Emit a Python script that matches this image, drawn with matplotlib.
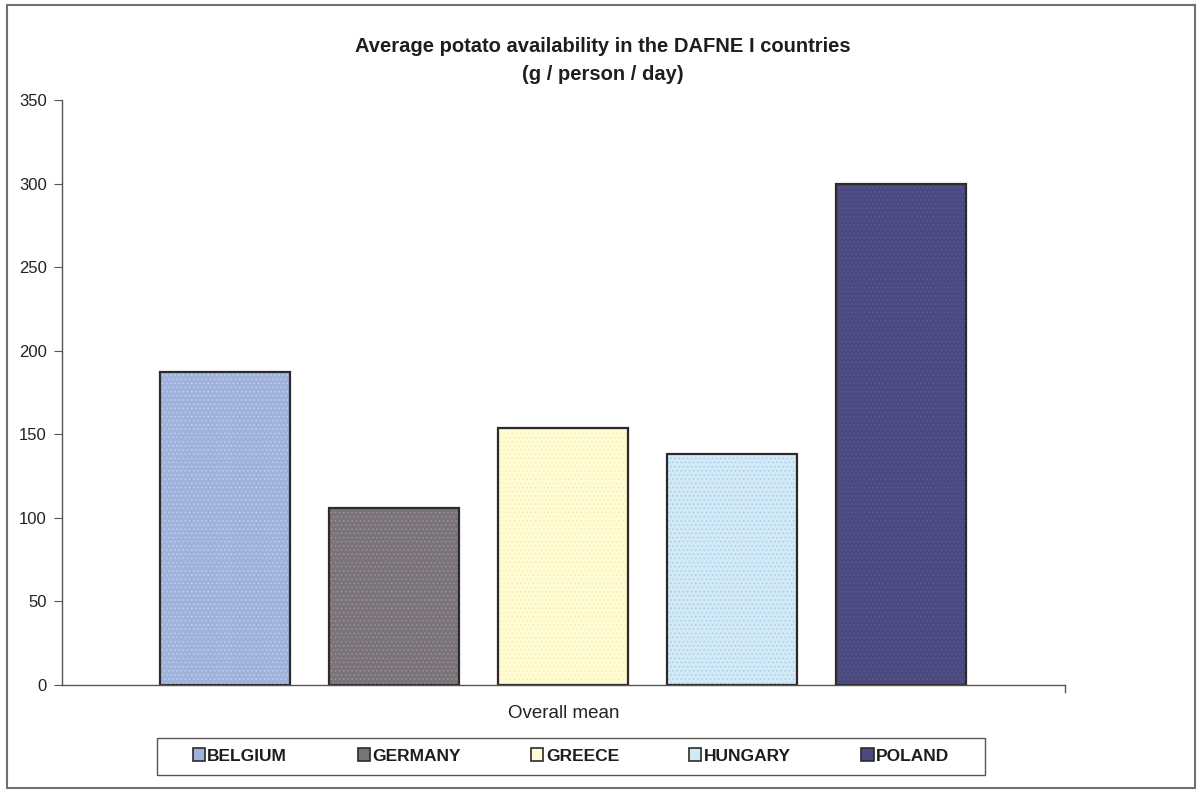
import matplotlib.pyplot as plt
from matplotlib.patches import Rectangle

plt.rcParams['font.family'] = ['Liberation Sans', 'DejaVu Sans']
plt.rcParams['hatch.linewidth'] = 0.6

countries = ['BELGIUM', 'GERMANY', 'GREECE', 'HUNGARY', 'POLAND']
potato = [187, 106, 154, 138, 300]
fills = ['#9fb2dc', '#7a7379', '#fffbd2', '#d2eaf6', '#4a4a80']
dots = ['#c2cfee', '#9c949a', '#f4efb0', '#a9cde6', '#5a5a90']

fig = plt.figure(figsize=(11.97, 7.90), dpi=100)
fig.patch.set_facecolor('white')
fig.add_artist(Rectangle((7 / 1197, 2 / 790), 1188 / 1197, 783 / 790,
                         transform=fig.transFigure, fill=False,
                         edgecolor='#707070', linewidth=1.5))

ax = fig.add_axes([62 / 1197, 105 / 790, 1003 / 1197, 585 / 790])
ax.set_facecolor('none')

x = range(len(countries))
ax.bar(x, potato, width=0.77, color=fills, hatch='....', edgecolor=dots, linewidth=0)
bars = ax.bar(x, potato, width=0.77, fill=False, edgecolor='#2e2a2a', linewidth=1.6)

ax.set_xlim(-0.965, 4.97)
ax.set_ylim(0, 350)
ax.set_yticks(range(0, 351, 50))
ax.set_xticks([])
for s in ['top', 'right']:
    ax.spines[s].set_visible(False)
for s in ['left', 'bottom']:
    ax.spines[s].set_color('#555555')
    ax.spines[s].set_linewidth(1.0)
ax.tick_params(axis='y', direction='out', length=6, color='#555555',
               labelsize=12, labelcolor='#222222', pad=5)
# little end tick on the right of the category axis
ax.plot([1, 1], [0, -0.012], transform=ax.transAxes, color='#555555',
        linewidth=1.0, clip_on=False)

ax.text(0.5, -0.048, 'Overall mean', transform=ax.transAxes, ha='center',
        va='center', fontsize=13.5, color='#222222')

fig.text(603 / 1197, 1 - 47 / 790, 'Average potato availability in the DAFNE I countries',
         ha='center', va='center', fontsize=14.5, fontweight='bold', color='#1e1e1e')
fig.text(603 / 1197, 1 - 75 / 790, '(g / person / day)',
         ha='center', va='center', fontsize=14.5, fontweight='bold', color='#1e1e1e')

# legend box drawn on its own so the padding can be wider than tall
fig.add_artist(Rectangle((157 / 1197, 1 - 775 / 790), 828 / 1197, 37 / 790,
                         transform=fig.transFigure, facecolor='white',
                         edgecolor='#555555', linewidth=1.0))
handles = [Rectangle((0, 0), 1, 1, facecolor=c, edgecolor='#2e2a2a', linewidth=1.2)
           for c in fills]
leg = fig.legend(handles, countries, ncol=5, loc='center',
                 bbox_to_anchor=(571 / 1197, 1 - 756 / 790),
                 prop={'weight': 'bold', 'size': 12.5}, frameon=False,
                 handlelength=0.7, handleheight=0.7, handletextpad=0.15,
                 columnspacing=4.05)
for t in leg.get_texts():
    t.set_color('#1e1e1e')

fig.savefig('out.png', dpi=100)
